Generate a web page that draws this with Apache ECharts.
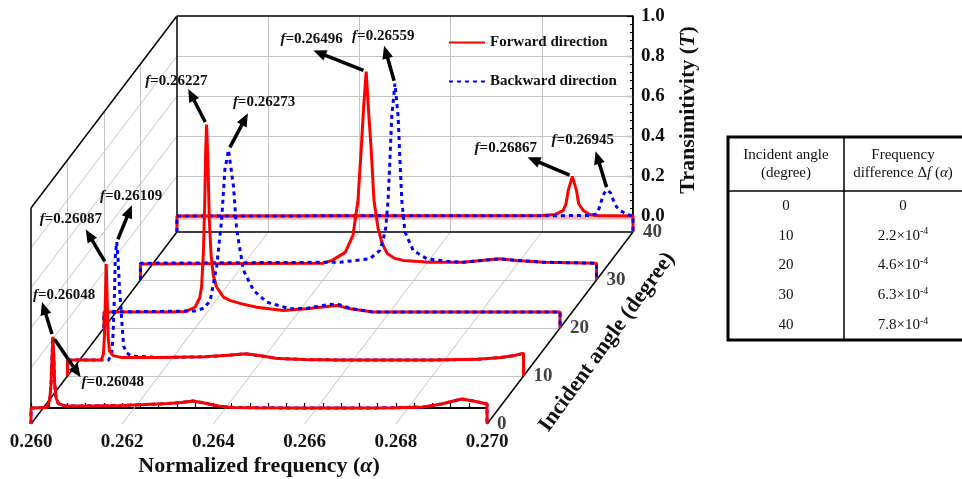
<!DOCTYPE html>
<html lang="en">
<head>
<meta charset="UTF-8">
<title>Transimitivity vs normalized frequency</title>
<style>
  html, body { margin: 0; padding: 0; background: #fff; }
  #main { width: 962px; height: 479px; }
</style>
</head>
<body>
<div id="main"></div>
<script src="https://cdn.jsdelivr.net/npm/echarts@6/dist/echarts.min.js"></script>
<script>
// spectra, [normalized frequency, transimitivity]
const angles = [0, 10, 20, 30, 40]

const forward0 = [[0.26000, 0.000], [0.26035, 0.002], [0.26041, 0.04], [0.26044, 0.12], [0.26046, 0.25], [0.26048, 0.356], [0.26050, 0.25], [0.26052, 0.12], [0.26055, 0.05], [0.26060, 0.022], [0.26075, 0.010], [0.26150, 0.011], [0.26200, 0.013], [0.26250, 0.017], [0.26300, 0.022], [0.26330, 0.028], [0.26355, 0.035], [0.26380, 0.025], [0.26410, 0.010], [0.26440, 0.003], [0.26500, 0.001], [0.26600, 0.000], [0.26700, 0.000], [0.26800, 0.001], [0.26860, 0.005], [0.26900, 0.020], [0.26944, 0.045], [0.26970, 0.035], [0.27000, 0.020]]
const backward0 = [[0.26000, 0.000], [0.26035, 0.002], [0.26041, 0.04], [0.26044, 0.12], [0.26046, 0.25], [0.26048, 0.356], [0.26050, 0.25], [0.26052, 0.12], [0.26055, 0.05], [0.26060, 0.022], [0.26075, 0.010], [0.26150, 0.011], [0.26200, 0.013], [0.26250, 0.017], [0.26300, 0.022], [0.26330, 0.028], [0.26355, 0.035], [0.26380, 0.025], [0.26410, 0.010], [0.26440, 0.003], [0.26500, 0.001], [0.26600, 0.000], [0.26700, 0.000], [0.26800, 0.001], [0.26860, 0.005], [0.26900, 0.020], [0.26944, 0.045], [0.26970, 0.035], [0.27000, 0.020]]

const forward10 = [[0.26000, 0.000], [0.26074, 0.000], [0.26079, 0.03], [0.26081, 0.12], [0.26083, 0.30], [0.26085, 0.48], [0.26087, 0.30], [0.26089, 0.12], [0.26092, 0.045], [0.26100, 0.022], [0.26120, 0.012], [0.26200, 0.012], [0.26300, 0.016], [0.26360, 0.025], [0.26390, 0.031], [0.26420, 0.022], [0.26460, 0.008], [0.26520, 0.002], [0.26600, 0.000], [0.26800, 0.000], [0.26900, 0.004], [0.26950, 0.012], [0.26980, 0.022], [0.27000, 0.034]]
const backward10 = [[0.26000, 0.000], [0.26090, 0.000], [0.26097, 0.03], [0.26100, 0.13], [0.26103, 0.33], [0.26105, 0.53], [0.26108, 0.59], [0.26111, 0.50], [0.26114, 0.36], [0.26119, 0.20], [0.26123, 0.07], [0.26130, 0.035], [0.26140, 0.02], [0.26200, 0.012], [0.26300, 0.016], [0.26360, 0.025], [0.26390, 0.031], [0.26420, 0.022], [0.26460, 0.008], [0.26520, 0.002], [0.26600, 0.000], [0.26800, 0.000], [0.26900, 0.004], [0.26950, 0.012], [0.26980, 0.022], [0.27000, 0.034]]

const forward20 = [[0.26000, 0.000], [0.26150, 0.000], [0.26180, 0.003], [0.26200, 0.025], [0.26210, 0.07], [0.26214, 0.125], [0.26218, 0.30], [0.26221, 0.55], [0.26223, 0.80], [0.26225, 0.937], [0.26228, 0.75], [0.26231, 0.46], [0.26235, 0.28], [0.26240, 0.18], [0.26247, 0.125], [0.26262, 0.074], [0.26276, 0.058], [0.26300, 0.042], [0.26335, 0.024], [0.26393, 0.008], [0.26444, 0.016], [0.26480, 0.025], [0.26510, 0.033], [0.26540, 0.016], [0.26590, 0.000], [0.27000, 0.000]]
const backward20 = [[0.26000, 0.000], [0.26200, 0.005], [0.26220, 0.02], [0.26233, 0.058], [0.26247, 0.225], [0.26258, 0.46], [0.26265, 0.71], [0.26273, 0.81], [0.26284, 0.627], [0.26291, 0.41], [0.26306, 0.208], [0.26328, 0.108], [0.26357, 0.049], [0.26408, 0.016], [0.26445, 0.018], [0.26481, 0.033], [0.26510, 0.041], [0.26540, 0.018], [0.26590, 0.000], [0.27000, 0.000]]

const forward30 = [[0.26000, 0.000], [0.26400, 0.004], [0.26420, 0.018], [0.26449, 0.058], [0.26466, 0.143], [0.26477, 0.319], [0.26484, 0.57], [0.26489, 0.771], [0.26495, 0.962], [0.26500, 0.771], [0.26506, 0.57], [0.26512, 0.319], [0.26521, 0.178], [0.26530, 0.103], [0.26541, 0.053], [0.26558, 0.028], [0.26576, 0.018], [0.26635, 0.009], [0.26707, 0.009], [0.26788, 0.026], [0.26825, 0.018], [0.26883, 0.009], [0.27000, 0.004]]
const backward30 = [[0.26000, 0.004], [0.26438, 0.009], [0.26503, 0.026], [0.26525, 0.068], [0.26532, 0.118], [0.26538, 0.185], [0.26543, 0.319], [0.26547, 0.52], [0.26551, 0.738], [0.26558, 0.902], [0.26565, 0.738], [0.26569, 0.52], [0.26573, 0.319], [0.26580, 0.16], [0.26598, 0.068], [0.26628, 0.026], [0.26672, 0.014], [0.26707, 0.009], [0.26788, 0.026], [0.26825, 0.018], [0.26883, 0.009], [0.27000, 0.004]]

const forward40 = [[0.26000, 0.000], [0.26800, 0.002], [0.26830, 0.008], [0.26847, 0.028], [0.26853, 0.06], [0.26858, 0.128], [0.26867, 0.198], [0.26876, 0.128], [0.26881, 0.06], [0.26891, 0.028], [0.26905, 0.008], [0.26920, 0.002], [0.27000, 0.000]]
const backward40 = [[0.26000, 0.000], [0.26910, 0.002], [0.26920, 0.011], [0.26926, 0.04], [0.26931, 0.078], [0.26937, 0.115], [0.26944, 0.13], [0.26951, 0.115], [0.26957, 0.078], [0.26964, 0.045], [0.26972, 0.028], [0.26986, 0.008], [0.27000, 0.000]]

const forward = [forward0, forward10, forward20, forward30, forward40]
const backward = [backward0, backward10, backward20, backward30, backward40]

// peak labels: which curve the arrow points at, and the printed value
const peakNotes = [
  { angle: 0, dir: 'fwd', text: '0.26048' },
  { angle: 0, dir: 'bwd', text: '0.26048' },
  { angle: 10, dir: 'fwd', text: '0.26087' },
  { angle: 10, dir: 'bwd', text: '0.26109' },
  { angle: 20, dir: 'fwd', text: '0.26227' },
  { angle: 20, dir: 'bwd', text: '0.26273' },
  { angle: 30, dir: 'fwd', text: '0.26496' },
  { angle: 30, dir: 'bwd', text: '0.26559' },
  { angle: 40, dir: 'fwd', text: '0.26867' },
  { angle: 40, dir: 'bwd', text: '0.26945' }
]

// inset table
const tableAngles = [0, 10, 20, 30, 40]
const tableShift = [0, 2.2, 4.6, 6.3, 7.8]   // x 10^-4

// box of the pseudo 3d plot
const F_MIN = 0.26, F_MAX = 0.27, T_FLOOR = -0.08, T_TOP = 1
const DEPTH_F = 0.0032, DEPTH_T = 0.96     // shift of the 40 degree plane
const freqGrid = [0.262, 0.264, 0.266, 0.268]
const tGrid = [0.2, 0.4, 0.6, 0.8]
const angleGrid = [10, 20, 30]

const SERIF = "'Times New Roman', 'Liberation Serif', serif"

function proj(f, a, t) {
  return [f + a / 40 * DEPTH_F, t + a / 40 * DEPTH_T]
}
function withDrops(data) {
  return [[data[0][0], T_FLOOR], ...data, [data[data.length - 1][0], T_FLOOR]]
}

let greySegs = []
freqGrid.forEach(f => {
  greySegs.push([proj(f, 0, T_FLOOR), proj(f, 40, T_FLOOR)])
  greySegs.push([proj(f, 40, T_FLOOR), proj(f, 40, T_TOP)])
})
angleGrid.forEach(a => {
  greySegs.push([proj(F_MIN, a, T_FLOOR), proj(F_MAX, a, T_FLOOR)])
  greySegs.push([proj(F_MIN, a, T_FLOOR), proj(F_MIN, a, T_TOP)])
})
tGrid.forEach(t => {
  greySegs.push([proj(F_MIN, 0, t), proj(F_MIN, 40, t)])
  greySegs.push([proj(F_MIN, 40, t), proj(F_MAX, 40, t)])
})

const frameSegs = [
  [proj(F_MIN, 0, T_FLOOR), proj(F_MIN, 40, T_FLOOR)],
  [proj(F_MAX, 0, T_FLOOR), proj(F_MAX, 40, T_FLOOR)],
  [proj(F_MIN, 40, T_FLOOR), proj(F_MAX, 40, T_FLOOR)],
  [proj(F_MIN, 0, T_FLOOR), proj(F_MIN, 0, T_TOP)],
  [proj(F_MIN, 0, T_TOP), proj(F_MIN, 40, T_TOP)],
  [proj(F_MIN, 40, T_FLOOR), proj(F_MIN, 40, T_TOP)],
  [proj(F_MIN, 40, T_TOP), proj(F_MAX, 40, T_TOP)],
  [proj(F_MAX, 40, T_FLOOR), proj(F_MAX, 40, T_TOP)]
]

function curve(data, a, dir) {
  const fwd = dir === 'fwd'
  const color = fwd ? '#ff0000' : '#0000ff'
  return {
    name: fwd ? 'Forward direction' : 'Backward direction',
    type: 'line',
    xAxisIndex: 0, yAxisIndex: 0,
    clip: false, silent: true,
    symbol: 'none',
    data: withDrops(data).map(p => proj(p[0], a, p[1])),
    itemStyle: { color },
    lineStyle: fwd ? { color, width: 3 } : { color, width: 3, type: [4, 4] },
    z: 4
  }
}

let series = [
  {
    type: 'lines', coordinateSystem: 'cartesian2d', xAxisIndex: 0, yAxisIndex: 0,
    clip: false, silent: true, z: 1,
    lineStyle: { color: '#c4c4c4', width: 1, opacity: 1 },
    data: greySegs.map(c => ({ coords: c }))
  },
  {
    type: 'lines', coordinateSystem: 'cartesian2d', xAxisIndex: 0, yAxisIndex: 0,
    clip: false, silent: true, z: 2,
    lineStyle: { color: '#000', width: 1.5, opacity: 1 },
    data: frameSegs.map(c => ({ coords: c }))
  },
  {
    // pale band along the back baseline
    type: 'line', xAxisIndex: 0, yAxisIndex: 0, clip: false, silent: true, symbol: 'none', z: 3,
    data: [proj(F_MIN, 40, -0.006), proj(F_MAX, 40, -0.006)],
    lineStyle: { color: 'rgba(255,60,60,0.35)', width: 5 }
  }
]
// back planes first, blue drawn above red except at the two front angles
for (let i = angles.length - 1; i >= 0; i--) {
  const a = angles[i]
  if (a >= 20) {
    series.push(curve(forward[i], a, 'fwd'), curve(backward[i], a, 'bwd'))
  } else {
    series.push(curve(backward[i], a, 'bwd'), curve(forward[i], a, 'fwd'))
  }
}
series.push({
  type: 'scatter', xAxisIndex: 0, yAxisIndex: 0, silent: true, symbolSize: 0,
  data: angles.map(a => ({ name: String(a), value: proj(F_MAX, a, T_FLOOR) })),
  label: {
    show: true, position: 'right', distance: 10, formatter: '{b}',
    fontFamily: SERIF, fontWeight: 'bold', fontSize: 19, color: '#111'
  }
})

let main = document.getElementById('main')
let chart = echarts.init(main)

const axisFont = { fontFamily: SERIF, fontWeight: 'bold', fontSize: 19, color: '#111' }
const nameFont = {
  fontFamily: SERIF, fontWeight: 'bold', fontSize: 22, color: '#111',
  rich: { i: { fontFamily: SERIF, fontWeight: 'bold', fontStyle: 'italic', fontSize: 22, color: '#111' } }
}

let option = {
  animation: false,
  backgroundColor: '#fff',
  grid: [
    // whole oblique box: front plane plus the depth shift
    { left: 31, top: 16, width: 602, height: 408, containLabel: false, outerBoundsMode: 'none' },
    // back wall, carries the transimitivity axis
    { left: 177, top: 16, width: 456, height: 200, containLabel: false, outerBoundsMode: 'none' },
    // front plane, carries the frequency axis
    { left: 31, top: 208, width: 456, height: 216, containLabel: false, outerBoundsMode: 'none' }
  ],
  xAxis: [
    { gridIndex: 0, type: 'value', min: F_MIN, max: F_MAX + DEPTH_F, show: false },
    { gridIndex: 1, type: 'value', min: F_MIN, max: F_MAX, show: false },
    {
      gridIndex: 2, type: 'value', min: F_MIN, max: F_MAX, interval: 0.002,
      axisLine: { show: true, lineStyle: { color: '#000', width: 2 } },
      axisTick: { show: true, inside: true, length: 5, lineStyle: { color: '#000', width: 1.2 } },
      minorTick: { show: true, splitNumber: 5, length: 5, lineStyle: { color: '#000', width: 1.2 } },
      splitLine: { show: false },
      axisLabel: Object.assign({ formatter: v => v.toFixed(3), margin: 9 }, axisFont),
      name: 'Normalized frequency ({i|α})', nameLocation: 'middle', nameGap: 31,
      nameTextStyle: nameFont
    }
  ],
  yAxis: [
    { gridIndex: 0, type: 'value', min: T_FLOOR, max: T_TOP + DEPTH_T, show: false },
    {
      gridIndex: 1, type: 'value', position: 'right', min: 0, max: 1, interval: 0.2,
      axisLine: { show: true, lineStyle: { color: '#000', width: 1.5 } },
      axisTick: { show: true, inside: true, length: 6, lineStyle: { color: '#000', width: 1.2 } },
      minorTick: { show: true, splitNumber: 5, length: 3, lineStyle: { color: '#000', width: 1 } },
      splitLine: { show: false },
      axisLabel: Object.assign({ formatter: v => v.toFixed(1), margin: 8 }, axisFont)
    },
    { gridIndex: 2, type: 'value', min: T_FLOOR, max: T_TOP, show: false }
  ],
  legend: {
    data: ['Forward direction', 'Backward direction'],
    orient: 'vertical', left: 448, top: 35, padding: 0,
    itemWidth: 36, itemHeight: 14, itemGap: 24,
    itemStyle: { opacity: 0 },
    textStyle: { fontFamily: SERIF, fontWeight: 'bold', fontSize: 15, color: '#111' }
  },
  series
}
chart.setOption(option)

// arrows and labels at the peaks, placed in pixels from the peak of each curve
const noteLayout = [
  { vec: [-10, -32], txt: [-9, -7] },
  { vec: [26, 38], txt: [1, 5] },
  { vec: [-19, -32], txt: [-46, -10] },
  { vec: [14, -34], txt: [-32, -9] },
  { vec: [-17, -33], txt: [-43, -8] },
  { vec: [18, -34], txt: [-15, -11] },
  { vec: [-50, -20], txt: [-33, -11] },
  { vec: [-10, -35], txt: [-32, -10] },
  { vec: [-42, -18], txt: [-53, -9] },
  { vec: [-11, -36], txt: [-44, -11] }
]

function arrow(x1, y1, x2, y2) {
  const len = Math.hypot(x2 - x1, y2 - y1)
  const ux = (x2 - x1) / len, uy = (y2 - y1) / len
  const hl = 13, hw = 5.5
  const bx = x2 - ux * hl, by = y2 - uy * hl
  return [
    { type: 'line', silent: true, z: 10, shape: { x1, y1, x2: bx + ux * 2, y2: by + uy * 2 }, style: { stroke: '#000', lineWidth: 3.5 } },
    { type: 'polygon', silent: true, z: 10, shape: { points: [[x2, y2], [bx - uy * hw, by + ux * hw], [bx + uy * hw, by - ux * hw]] }, style: { fill: '#000' } }
  ]
}

let graphics = []
peakNotes.forEach((note, k) => {
  const i = angles.indexOf(note.angle)
  const data = note.dir === 'fwd' ? forward[i] : backward[i]
  const top = data.reduce((m, p) => (p[1] > m[1] ? p : m), data[0])
  const [px, py] = chart.convertToPixel({ gridIndex: 0 }, proj(top[0], note.angle, top[1]))
  const { vec, txt } = noteLayout[k]
  const len = Math.hypot(vec[0], vec[1])
  const sx = px + vec[0] / len * 3, sy = py + vec[1] / len * 3
  const hx = sx + vec[0], hy = sy + vec[1]
  graphics.push(...arrow(sx, sy, hx, hy))
  graphics.push({
    type: 'text', silent: true, z: 11,
    x: hx + txt[0], y: hy + txt[1],
    style: {
      text: '{i|f}{n|=' + note.text + '}',
      align: 'left', verticalAlign: 'middle',
      rich: {
        i: { fontFamily: SERIF, fontWeight: 'bold', fontStyle: 'italic', fontSize: 15, fill: '#111' },
        n: { fontFamily: SERIF, fontWeight: 'bold', fontSize: 15, fill: '#111' }
      }
    }
  })
})

// axis titles that do not sit on a plain axis
graphics.push({
  type: 'text', silent: true,
  x: 607, y: 342, rotation: 54 * Math.PI / 180,
  style: {
    text: 'Incident angle (degree)', align: 'center', verticalAlign: 'middle',
    fontFamily: SERIF, fontWeight: 'bold', fontSize: 22, fill: '#111'
  }
})
graphics.push({
  type: 'text', silent: true,
  x: 688, y: 110, rotation: Math.PI / 2,
  style: {
    text: 'Transimitivity ({i|T})', align: 'center', verticalAlign: 'middle',
    fontFamily: SERIF, fontWeight: 'bold', fontSize: 22, fill: '#111',
    rich: { i: { fontFamily: SERIF, fontWeight: 'bold', fontStyle: 'italic', fontSize: 22, fill: '#111' } }
  }
})

// inset table
const tb = { left: 728, top: 137, right: 968, bottom: 340, head: 191, split: 844 }
const colA = (tb.left + tb.split) / 2, colB = (tb.split + 962) / 2
const rowStep = (tb.bottom - tb.head) / tableAngles.length
const cellFont = { fontFamily: SERIF, fontSize: 15, fill: '#111' }
graphics.push(
  { type: 'rect', silent: true, shape: { x: tb.left, y: tb.top, width: tb.right - tb.left, height: tb.bottom - tb.top }, style: { fill: 'none', stroke: '#000', lineWidth: 3 } },
  { type: 'line', silent: true, shape: { x1: tb.left, y1: tb.head, x2: tb.right, y2: tb.head }, style: { stroke: '#000', lineWidth: 1.5 } },
  { type: 'line', silent: true, shape: { x1: tb.split, y1: tb.top, x2: tb.split, y2: tb.bottom }, style: { stroke: '#000', lineWidth: 1.5 } },
  { type: 'text', silent: true, x: colA, y: 164, style: Object.assign({ text: 'Incident angle\n(degree)', align: 'center', verticalAlign: 'middle', lineHeight: 18 }, cellFont) },
  {
    type: 'text', silent: true, x: colB, y: 164,
    style: Object.assign({
      text: 'Frequency\ndifference Δ{i|f} ({i|α})', align: 'center', verticalAlign: 'middle', lineHeight: 18,
      rich: { i: Object.assign({ fontStyle: 'italic', lineHeight: 18 }, cellFont) }
    }, cellFont)
  }
)
tableAngles.forEach((a, r) => {
  const y = tb.head + rowStep * (r + 0.5)
  const v = tableShift[r]
  graphics.push({ type: 'text', silent: true, x: colA, y, style: Object.assign({ text: String(a), align: 'center', verticalAlign: 'middle' }, cellFont) })
  graphics.push({
    type: 'text', silent: true, x: colB, y,
    style: Object.assign({
      text: v === 0 ? '0' : v.toFixed(1) + '×10{s|-4}',
      align: 'center', verticalAlign: 'middle',
      rich: { s: Object.assign({}, cellFont, { fontSize: 10, verticalAlign: 'top', lineHeight: 18 }) }
    }, cellFont)
  })
})

chart.setOption({ graphic: graphics })
</script>
</body>
</html>
